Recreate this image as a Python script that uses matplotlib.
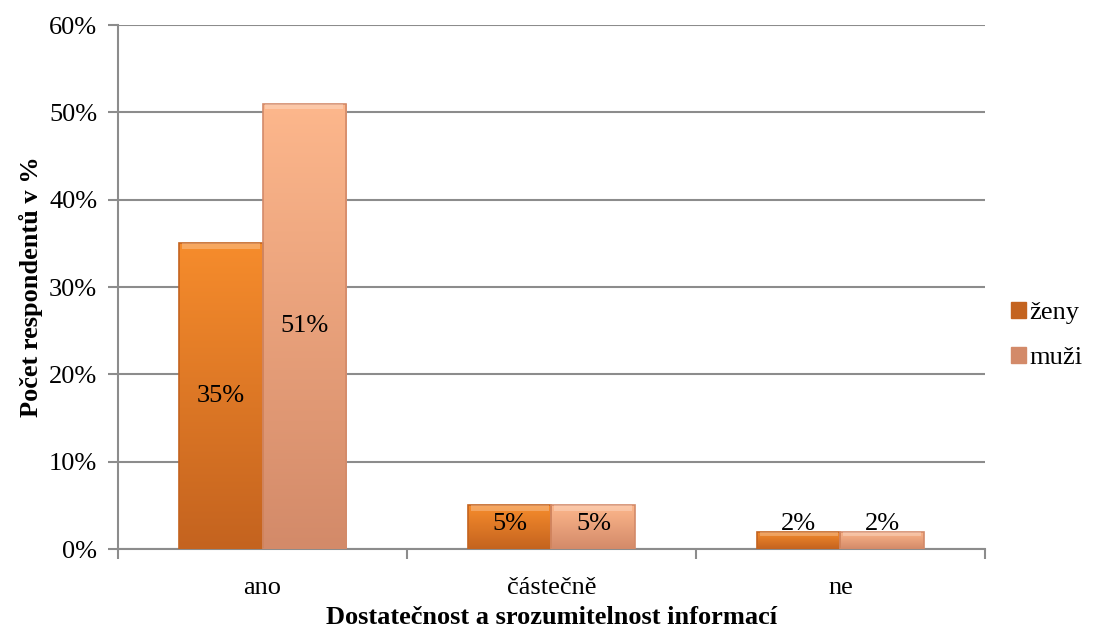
import numpy as np
import matplotlib.pyplot as plt
from matplotlib.colors import LinearSegmentedColormap
from matplotlib.patches import Patch

kategorie = ['ano', 'částečně', 'ne']
zeny = [35, 5, 2]
muzi = [51, 5, 2]
serie = ['ženy', 'muži']

# barvy: horni a dolni konec prechodu
barvy_zeny = ('#F68C2C', '#C4631F')
barvy_muzi = ('#FDB78C', '#D38A69')

plt.rcParams['font.family'] = ['Liberation Serif', 'DejaVu Serif']

fig = plt.figure(figsize=(11.02, 6.33), dpi=100)
ax = fig.add_axes([0.1071, 0.1327, 0.7867, 0.8278])

x = np.arange(len(kategorie))
sirka = 0.29


def gradient_bars(xs, vals, barvy):
    cmap = LinearSegmentedColormap.from_list('g', [barvy[1], barvy[0]])
    bars = ax.bar(xs, vals, sirka, color='none', edgecolor='none', zorder=3)
    grad = np.linspace(0, 1, 256).reshape(-1, 1)
    for b in bars:
        x0, w, h = b.get_x(), b.get_width(), b.get_height()
        im = ax.imshow(grad, cmap=cmap, aspect='auto', origin='lower',
                       extent=[x0, x0 + w, 0, h], zorder=3)
        im.set_clip_path(b)
        # okraj a svetly pruh nahore
        ax.add_patch(plt.Rectangle((x0, 0), w, h, fill=False,
                                   edgecolor=barvy[1], lw=1.2, zorder=4))
        ax.add_patch(plt.Rectangle((x0 + 0.01, h - min(0.6, h * 0.25)), w - 0.02,
                                   min(0.6, h * 0.25), color='white', alpha=0.25,
                                   lw=0, zorder=4))
    return bars


gradient_bars(x - sirka / 2, zeny, barvy_zeny)
gradient_bars(x + sirka / 2, muzi, barvy_muzi)

# popisky hodnot
for xs, vals in [(x - sirka / 2, zeny), (x + sirka / 2, muzi)]:
    for xi, v in zip(xs, vals):
        ax.text(xi, max(v / 2, 2.9), f'{v}%', ha='center', va='center',
                fontsize=19, zorder=5)

ax.set_xlim(-0.5, len(kategorie) - 0.5)
ax.set_ylim(0, 60)
ax.set_yticks(range(0, 61, 10))
ax.set_yticklabels([f'{t}%' for t in range(0, 61, 10)], fontsize=19)
ax.set_xticks(x)
ax.set_xticklabels(kategorie, fontsize=19)
ax.set_xticks(np.arange(-0.5, len(kategorie) + 0.5, 1), minor=True)
ax.tick_params(axis='x', which='major', length=0, pad=20)
ax.tick_params(axis='x', which='minor', length=7, color='#8C8C8C', width=1.5)
ax.tick_params(axis='y', length=7, color='#8C8C8C', width=1.5, pad=8)

ax.grid(axis='y', color='#8C8C8C', lw=1.5, zorder=0)
ax.set_axisbelow(True)
for s in ['top', 'right']:
    ax.spines[s].set_visible(False)
ax.spines['left'].set_color('#8C8C8C')
ax.spines['bottom'].set_color('#8C8C8C')
ax.spines['left'].set_linewidth(1.5)
ax.spines['bottom'].set_linewidth(1.5)

ax.set_xlabel('Dostatečnost a srozumitelnost informací', fontsize=19,
              fontweight='bold', labelpad=5)
ax.set_ylabel('Počet respondentů v %', fontsize=19, fontweight='bold', labelpad=4)

handles = [Patch(facecolor=barvy_zeny[1], edgecolor=barvy_zeny[1]),
           Patch(facecolor=barvy_muzi[1], edgecolor=barvy_muzi[1])]
fig.legend(handles, serie, loc='center left', bbox_to_anchor=(0.896, 0.47),
           frameon=False, fontsize=19, handlelength=0.55, handleheight=0.55,
           handletextpad=0.15, labelspacing=0.85)

fig.savefig('out.png', dpi=100)
